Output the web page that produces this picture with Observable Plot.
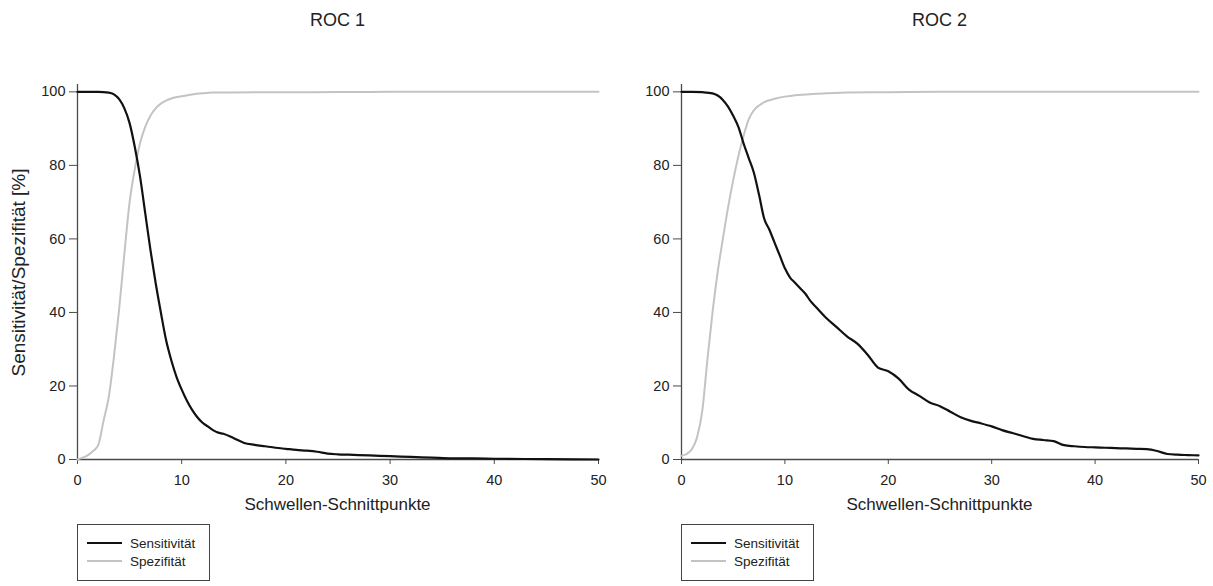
<!DOCTYPE html>
<html>
<head>
<meta charset="utf-8">
<script src="https://cdn.jsdelivr.net/npm/d3@7"></script>
<script src="https://cdn.jsdelivr.net/npm/@observablehq/plot@0.6"></script>
<style>
  html, body { margin: 0; padding: 0; background: #fff; }
  #root { position: relative; width: 1213px; height: 586px; overflow: hidden;
          font-family: "Liberation Sans", Arial, sans-serif; color: #222; }
  .abs { position: absolute; }
  .title { font-size: 18px; line-height: 1; text-align: center; width: 200px; }
  .xlabel { font-size: 17px; line-height: 1; text-align: center; width: 300px; }
  .ylabel { font-size: 19px; line-height: 1; white-space: nowrap; transform-origin: center center; }
</style>
</head>
<body>
<div id="root"></div>
<script>
// ---- data ----
const titles = ["ROC 1", "ROC 2"];
const xLabel = "Schwellen-Schnittpunkte";
const yLabel = "Sensitivität/Spezifität [%]";
const seriesNames = ["Sensitivität", "Spezifität"];
const xTicks = [0, 10, 20, 30, 40, 50];
const yTicks = [0, 20, 40, 60, 80, 100];

const roc1SensX = [0, 1, 2, 3, 3.5, 4, 4.5, 5, 5.5, 6, 6.5, 7, 7.5, 8, 8.5, 9, 9.5, 10, 10.5, 11, 11.5, 12, 12.5, 13, 13.5, 14, 15, 16, 17, 18, 19, 20, 21, 22, 23, 24, 25, 26, 28, 30, 32, 34, 36, 38, 40, 45, 50];
const roc1SensY = [100, 100, 100, 99.8, 99.3, 98, 95.5, 91.5, 85, 77, 67, 57, 48, 40, 32.5, 27, 22.5, 19, 16, 13.5, 11.5, 10, 9, 8, 7.3, 7, 5.8, 4.5, 4, 3.6, 3.2, 2.9, 2.6, 2.4, 2.1, 1.6, 1.4, 1.3, 1.1, 0.9, 0.7, 0.5, 0.3, 0.3, 0.2, 0.1, 0];

const roc1SpecX = [0, 0.5, 1, 1.5, 2, 2.5, 3, 3.5, 4, 4.5, 5, 5.5, 6, 6.5, 7, 7.5, 8, 8.5, 9, 10, 11, 12, 13, 15, 20, 25, 30, 50];
const roc1SpecY = [0, 0.5, 1.2, 2.3, 4, 10.5, 17, 28, 41, 56, 70, 79, 86, 90.5, 93.5, 95.5, 96.8, 97.6, 98.2, 98.8, 99.3, 99.6, 99.8, 99.85, 99.9, 99.95, 100, 100];

const roc2SensX = [0, 1, 2, 3, 3.5, 4, 4.5, 5, 5.5, 6, 6.5, 7, 7.5, 8, 8.5, 9, 9.5, 10, 10.5, 11, 11.5, 12, 12.5, 13, 14, 15, 16, 17, 18, 19, 20, 21, 22, 23, 24, 25, 26, 27, 28, 29, 30, 31, 32, 33, 34, 35, 36, 37, 38, 39, 40, 41, 42, 43, 44, 45, 46, 47, 48, 49, 50];
const roc2SensY = [100, 100, 99.9, 99.6, 99, 97.8, 96, 93.5, 90.5, 86, 82, 78, 72, 65.5, 62.5, 59, 55.5, 52, 49.5, 48, 46.5, 45, 43, 41.5, 38.5, 36, 33.5, 31.5, 28.5, 25, 24, 22, 19, 17.3, 15.5, 14.5, 13, 11.5, 10.5, 9.8, 9, 8, 7.2, 6.4, 5.6, 5.3, 5, 3.9, 3.6, 3.4, 3.3, 3.2, 3.1, 3.0, 2.9, 2.8, 2.3, 1.5, 1.3, 1.2, 1.1];

const roc2SpecX = [0, 0.5, 1, 1.5, 2, 2.5, 3, 3.5, 4, 4.5, 5, 5.5, 6, 6.5, 7, 7.5, 8, 9, 10, 11, 12, 13, 14, 16, 20, 25, 50];
const roc2SpecY = [1, 1.5, 2.8, 6, 13, 27, 40, 51, 60, 68.5, 76, 82.5, 88, 92.5, 95, 96.3, 97.2, 98.1, 98.7, 99.1, 99.3, 99.5, 99.6, 99.8, 99.9, 100, 100];

// ---- drawing ----
const root = document.getElementById("root");
const FONT = '"Liberation Sans", Arial, sans-serif';
const AXIS = "#4a4a4a";
const SENS_COLOR = "#111111";
const SPEC_COLOR = "#c3c3c3";

function toRows(xs, ys) { return xs.map((x, i) => ({x, y: ys[i]})); }

function panel(opts) {
  const sens = toRows(opts.sensX, opts.sensY);
  const spec = toRows(opts.specX, opts.specY);
  const svg = Plot.plot({
    width: opts.width, height: 500,
    marginLeft: opts.ml, marginRight: opts.mr, marginTop: 84, marginBottom: 41,
    x: {domain: [0, 50]},
    y: {domain: [0, 102]},
    style: {fontFamily: FONT, fontSize: "14.5px", color: "#222", background: "transparent", overflow: "visible"},
    marks: [
      Plot.axisX({ticks: xTicks, tickSize: 5, tickPadding: 10, label: null, stroke: AXIS}),
      Plot.axisY({ticks: yTicks, tickSize: 8, tickPadding: 4, label: null, stroke: AXIS}),
      Plot.ruleY([0], {stroke: AXIS, strokeWidth: 1.3}),
      Plot.ruleX([0], {stroke: AXIS, strokeWidth: 1.3}),
      Plot.line(spec, {x: "x", y: "y", stroke: SPEC_COLOR, strokeWidth: 2, curve: "monotone-x"}),
      Plot.line(sens, {x: "x", y: "y", stroke: SENS_COLOR, strokeWidth: 2.2, curve: "monotone-x"})
    ]
  });
  svg.style.position = "absolute";
  svg.style.left = opts.left + "px";
  svg.style.top = "0px";
  root.appendChild(svg);

  const cx = opts.left + opts.ml + (opts.width - opts.ml - opts.mr) / 2;
  const t = document.createElement("div");
  t.className = "abs title";
  t.textContent = opts.title;
  t.style.left = (cx - 100) + "px";
  t.style.top = "11px";
  root.appendChild(t);

  const xl = document.createElement("div");
  xl.className = "abs xlabel";
  xl.textContent = xLabel;
  xl.style.left = (cx - 150) + "px";
  xl.style.top = "496px";
  root.appendChild(xl);

  // legend box
  const lx = opts.left + opts.ml;
  const ns = "http://www.w3.org/2000/svg";
  const lg = document.createElementNS(ns, "svg");
  lg.setAttribute("width", 134);
  lg.setAttribute("height", 58);
  lg.style.position = "absolute";
  lg.style.left = lx + "px";
  lg.style.top = "524px";
  lg.innerHTML =
    `<rect x="0.5" y="0.5" width="132" height="56" fill="white" stroke="#444" stroke-width="1"/>` +
    `<line x1="10" x2="45" y1="19" y2="19" stroke="${SENS_COLOR}" stroke-width="2.2"/>` +
    `<line x1="10" x2="45" y1="37" y2="37" stroke="${SPEC_COLOR}" stroke-width="2"/>` +
    `<text x="53" y="23.5" font-family='${FONT}' font-size="13.5" fill="#222">${seriesNames[0]}</text>` +
    `<text x="53" y="41.5" font-family='${FONT}' font-size="13.5" fill="#222">${seriesNames[1]}</text>`;
  root.appendChild(lg);
}

panel({title: titles[0], left: 0, width: 606, ml: 77, mr: 8,
       sensX: roc1SensX, sensY: roc1SensY, specX: roc1SpecX, specY: roc1SpecY});
panel({title: titles[1], left: 606, width: 607, ml: 75, mr: 15,
       sensX: roc2SensX, sensY: roc2SensY, specX: roc2SpecX, specY: roc2SpecY});

// y axis label (left panel only)
const yl = document.createElement("div");
yl.className = "abs ylabel";
yl.textContent = yLabel;
root.appendChild(yl);
const w = yl.offsetWidth, h = yl.offsetHeight;
yl.style.left = (18 - w / 2) + "px";
yl.style.top = (272 - h / 2) + "px";
yl.style.transform = "rotate(-90deg)";
</script>
</body>
</html>
